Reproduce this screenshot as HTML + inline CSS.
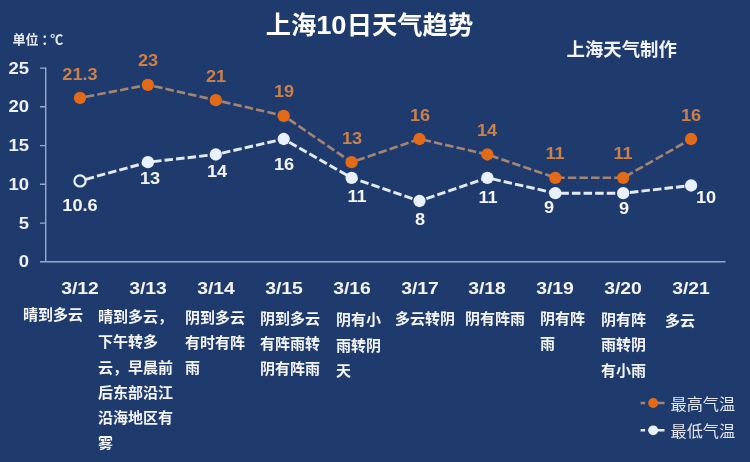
<!DOCTYPE html>
<html><head><meta charset="utf-8"><title>上海10日天气趋势</title>
<style>
html,body{margin:0;padding:0}
body{width:750px;height:462px;background:#1f3b6e;position:relative;overflow:hidden;font-family:"Liberation Sans","Noto Sans CJK SC",sans-serif;}
.t{position:absolute;white-space:nowrap;color:#fff;line-height:1;filter:blur(0.35px)}
.c{transform:translateX(-50%);text-align:center}
.r{transform:translateX(-100%) scaleX(1.12);transform-origin:100% 50%;text-align:right}
.title{font-size:25.3px;font-weight:bold;color:#fff;}
.n{display:inline-block;transform:scaleX(1.08);margin:0 1.1px}
.unit{font-size:13px;font-weight:bold;color:#e8ecf4}
.maker{font-size:18.4px;font-weight:bold;color:#f2f4f8}
.yl{font-size:16.5px;font-weight:bold;color:#eef1f7;line-height:20px}
.hv{font-size:16.5px;font-weight:bold;color:#cb8149;line-height:20px;transform:translateX(-50%) scaleX(1.1)}
.lv{font-size:16.5px;font-weight:bold;color:#f4f6fa;line-height:20px;transform:translateX(-50%) scaleX(1.1)}
.dt{font-size:17px;font-weight:bold;color:#f4f6fa;line-height:20px;transform:translateX(-50%) scaleX(1.14)}
.ds{font-size:15px;font-weight:bold;color:#f4f6fa;line-height:25.2px;}
.lg{font-size:16.2px;color:#e2e7f0;line-height:22px}
</style></head><body>
<svg width="750" height="462" viewBox="0 0 750 462" style="position:absolute;left:0;top:0">
<defs><filter id="b" x="-5%" y="-5%" width="110%" height="110%"><feGaussianBlur stdDeviation="0.6"/></filter></defs>
<g filter="url(#b)">
<path d="M45.7 67.5 V261.8 M40 261.8 H725.5" fill="none" stroke="#98a8cb" stroke-width="1.4"/>
<path d="M40 223.1 H45.7 M40 184.3 H45.7 M40 145.6 H45.7 M40 106.8 H45.7 M40 68.1 H45.7" fill="none" stroke="#98a8cb" stroke-width="1.4"/>
<path d="M80.0 97.9 L147.9 84.8 L215.8 100.2 L283.7 115.8 L351.6 162.2 L419.5 139.0 L487.4 154.5 L555.3 177.8 L623.2 177.8 L691.1 139.0" fill="none" stroke="#a48572" stroke-width="2.6" stroke-dasharray="8.5 3.1" stroke-dashoffset="-6"/>
<path d="M80.0 180.9 L147.9 162.2 L215.8 154.5 L283.7 139.0 L351.6 177.8 L419.5 201.0 L487.4 177.8 L555.3 193.2 L623.2 193.2 L691.1 185.5" fill="none" stroke="#e3ecfb" stroke-width="2.9" stroke-dasharray="8.5 3.1" stroke-dashoffset="-6"/>
<circle cx="80.0" cy="97.9" r="6.15" fill="#e36a17"/>
<circle cx="147.9" cy="84.8" r="6.15" fill="#e36a17"/>
<circle cx="215.8" cy="100.2" r="6.15" fill="#e36a17"/>
<circle cx="283.7" cy="115.8" r="6.15" fill="#e36a17"/>
<circle cx="351.6" cy="162.2" r="6.15" fill="#e36a17"/>
<circle cx="419.5" cy="139.0" r="6.15" fill="#e36a17"/>
<circle cx="487.4" cy="154.5" r="6.15" fill="#e36a17"/>
<circle cx="555.3" cy="177.8" r="6.15" fill="#e36a17"/>
<circle cx="623.2" cy="177.8" r="6.15" fill="#e36a17"/>
<circle cx="691.1" cy="139.0" r="6.15" fill="#e36a17"/>
<circle cx="80.0" cy="180.9" r="5.6" fill="#1f3b6e" stroke="#e9f1fd" stroke-width="2.2"/>
<circle cx="147.9" cy="162.2" r="6.15" fill="#e9f1fd"/>
<circle cx="215.8" cy="154.5" r="6.15" fill="#e9f1fd"/>
<circle cx="283.7" cy="139.0" r="6.15" fill="#e9f1fd"/>
<circle cx="351.6" cy="177.8" r="6.15" fill="#e9f1fd"/>
<circle cx="419.5" cy="201.0" r="6.15" fill="#e9f1fd"/>
<circle cx="487.4" cy="177.8" r="6.15" fill="#e9f1fd"/>
<circle cx="555.3" cy="193.2" r="6.15" fill="#e9f1fd"/>
<circle cx="623.2" cy="193.2" r="6.15" fill="#e9f1fd"/>
<circle cx="691.1" cy="185.5" r="6.15" fill="#e9f1fd"/>
<path d="M640.6 403 H664.5" stroke="#a48572" stroke-width="2.6" stroke-dasharray="4.5 3.5 20"/><circle cx="653.2" cy="403" r="4.9" fill="#e36a17"/>
<path d="M640.6 430.3 H664.5" stroke="#e3ecfb" stroke-width="2.6" stroke-dasharray="4.5 3.5 20"/><circle cx="653.2" cy="430.3" r="4.9" fill="#e9f1fd"/>
</g></svg>
<div class="t title c" style="left:369.5px;top:13px;">上海<span class="n">10</span>日天气趋势</div>
<div class="t unit" style="left:12.5px;top:33px;">单位<span style="position:relative;left:3px">：</span><span style="margin-left:-1.3px">℃</span></div>
<div class="t maker c" style="left:621.7px;top:41px;">上海天气制作</div>
<div class="t yl r" style="left:29px;top:57.55000000000001px;">25</div>
<div class="t yl r" style="left:29px;top:96.30000000000001px;">20</div>
<div class="t yl r" style="left:29px;top:135.05px;">15</div>
<div class="t yl r" style="left:29px;top:173.8px;">10</div>
<div class="t yl r" style="left:29px;top:212.55px;">5</div>
<div class="t yl r" style="left:29px;top:251.3px;">0</div>
<div class="t hv c" style="left:80.0px;top:63.624999999999986px;">21.3</div>
<div class="t hv c" style="left:147.9px;top:50.45px;">23</div>
<div class="t hv c" style="left:215.8px;top:65.95px;">21</div>
<div class="t hv c" style="left:283.7px;top:81.45px;">19</div>
<div class="t hv c" style="left:351.6px;top:127.95px;">13</div>
<div class="t hv c" style="left:419.5px;top:104.7px;">16</div>
<div class="t hv c" style="left:487.4px;top:120.2px;">14</div>
<div class="t hv c" style="left:555.3px;top:143.45px;">11</div>
<div class="t hv c" style="left:623.2px;top:143.45px;">11</div>
<div class="t hv c" style="left:691.1px;top:104.7px;">16</div>
<div class="t lv c" style="left:79.5px;top:194.5px;">10.6</div>
<div class="t lv c" style="left:149.6px;top:168.1px;">13</div>
<div class="t lv c" style="left:216.7px;top:160.5px;">14</div>
<div class="t lv c" style="left:283.7px;top:153.5px;">16</div>
<div class="t lv c" style="left:356.8px;top:186px;">11</div>
<div class="t lv c" style="left:419.5px;top:208.5px;">8</div>
<div class="t lv c" style="left:487.5px;top:186.5px;">11</div>
<div class="t lv c" style="left:549.2px;top:196.5px;">9</div>
<div class="t lv c" style="left:623.5px;top:197.5px;">9</div>
<div class="t lv c" style="left:706.1px;top:186.5px;">10</div>
<div class="t dt c" style="left:80.0px;top:279px;">3/12</div>
<div class="t dt c" style="left:147.9px;top:279px;">3/13</div>
<div class="t dt c" style="left:215.8px;top:279px;">3/14</div>
<div class="t dt c" style="left:283.7px;top:279px;">3/15</div>
<div class="t dt c" style="left:351.6px;top:279px;">3/16</div>
<div class="t dt c" style="left:419.5px;top:279px;">3/17</div>
<div class="t dt c" style="left:487.4px;top:279px;">3/18</div>
<div class="t dt c" style="left:555.3px;top:279px;">3/19</div>
<div class="t dt c" style="left:623.2px;top:279px;">3/20</div>
<div class="t dt c" style="left:691.1px;top:279px;">3/21</div>
<div class="t ds" style="left:23px;top:302.3px;">晴到多云</div>
<div class="t ds" style="left:98px;top:304.2px;">晴到多云，<br>下午转多<br>云，早晨前<br>后东部沿江<br>沿海地区有<br>雾</div>
<div class="t ds" style="left:185px;top:305px;">阴到多云<br>有时有阵<br>雨</div>
<div class="t ds" style="left:260px;top:305.6px;">阴到多云<br>有阵雨转<br>阴有阵雨</div>
<div class="t ds" style="left:336px;top:307.3px;">阴有小<br>雨转阴<br>天</div>
<div class="t ds" style="left:395px;top:306.4px;">多云转阴</div>
<div class="t ds" style="left:465px;top:306.4px;">阴有阵雨</div>
<div class="t ds" style="left:540px;top:305.5px;">阴有阵<br>雨</div>
<div class="t ds" style="left:601px;top:307.2px;">阴有阵<br>雨转阴<br>有小雨</div>
<div class="t ds" style="left:665px;top:307.5px;">多云</div>
<div class="t lg" style="left:670.5px;top:392.5px;">最高气温</div>
<div class="t lg" style="left:670.5px;top:420px;">最低气温</div>
</body></html>
